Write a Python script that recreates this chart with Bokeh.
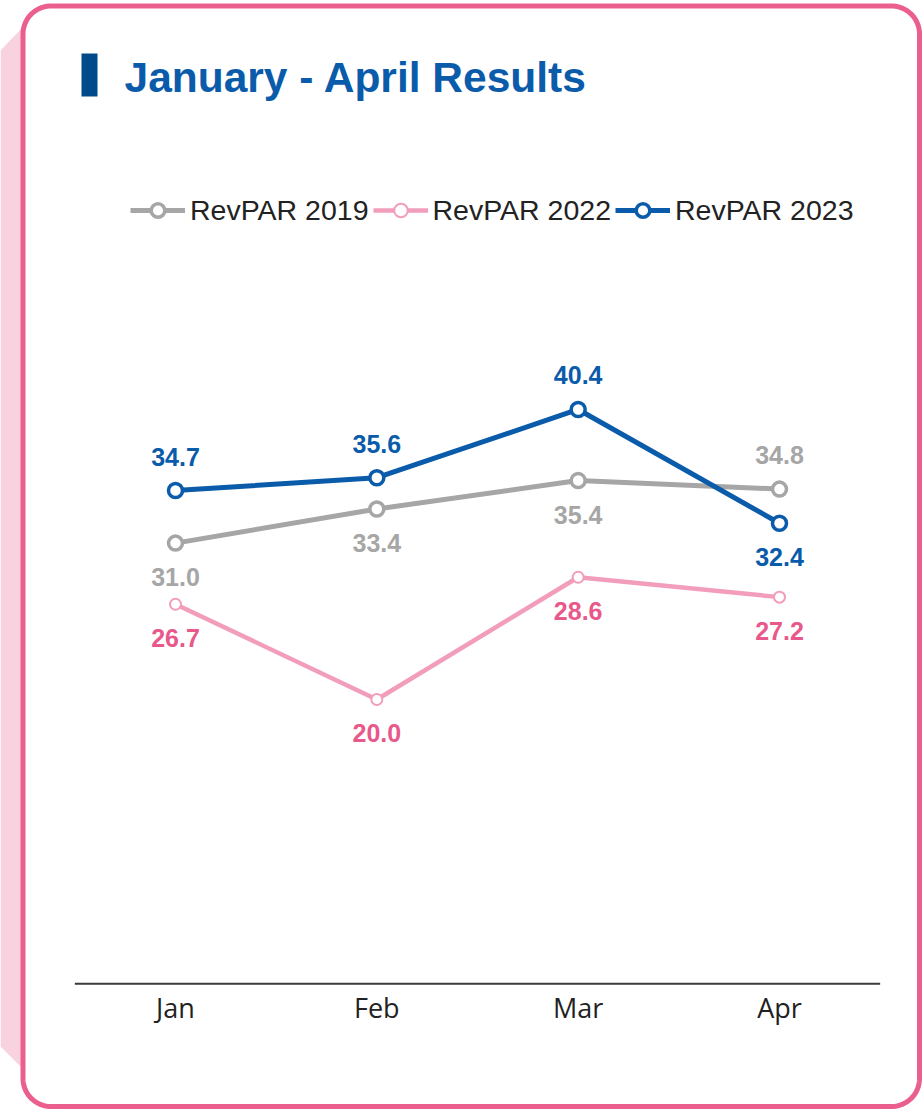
import numpy as np
from bokeh.plotting import figure
from bokeh.models import Range1d, ColumnDataSource, Legend, LegendItem
from bokeh.core.properties import value
from bokeh.embed import file_html
from bokeh.resources import INLINE

# ---------------- data ----------------
months = ["Jan", "Feb", "Mar", "Apr"]
revpar_2019 = [31.0, 33.4, 35.4, 34.8]
revpar_2022 = [26.7, 20.0, 28.6, 27.2]
revpar_2023 = [34.7, 35.6, 40.4, 32.4]
series_names = ["RevPAR 2019", "RevPAR 2022", "RevPAR 2023"]
title_text = "January - April Results"

# label placement: 1 = above point, -1 = below point
side_2019 = [-1, -1, -1, 1]
side_2022 = [-1, -1, -1, -1]
side_2023 = [1, 1, 1, -1]

# ---------------- styles ----------------
BLUE = "#0A5BAA"
GRAY = "#A6A6A6"
PINK_LINE = "#F29DBB"
PINK_TEXT = "#E8588B"
FRAME = "#EA5F8D"
SHADOW = "#F8D3DF"
NAVY = "#004A8A"
TXT = "#222222"

W, H = 922, 1109
idx = list(range(len(months)))

p = figure(width=W, height=H,
           x_range=Range1d(-0.8692, 3.7103),
           y_range=Range1d(-8.842, 69.17),
           output_backend="svg", toolbar_location=None,
           x_axis_location=None, y_axis_location=None,
           min_border=0)
p.extra_x_ranges = {"px": Range1d(0, W)}
p.extra_y_ranges = {"px": Range1d(H, 0)}
p.grid.visible = False
p.outline_line_color = None
p.background_fill_color = "white"
p.border_fill_color = "white"

# ---------------- decorations (page pixel coords) ----------------
p.patch([0, 22, 22, 0], [50, 27, 1068, 1046], fill_color=SHADOW, line_color=None,
        x_range_name="px", y_range_name="px")

def rounded_rect(l, r, t, b, rad, n=24):
    xs, ys = [], []
    for cx, cy, a0 in [(l + rad, t + rad, 180), (r - rad, t + rad, 270),
                       (r - rad, b - rad, 0), (l + rad, b - rad, 90)]:
        a = np.radians(np.linspace(a0, a0 + 90, n))
        xs.extend(cx + rad * np.cos(a))
        ys.extend(cy + rad * np.sin(a))
    return xs, ys

fx, fy = rounded_rect(22.5, 919, 5.5, 1106, 28)
p.patch(fx, fy, fill_color="white", line_color=FRAME, line_width=5,
        x_range_name="px", y_range_name="px")

p.quad(left=[81], right=[97], top=[53], bottom=[96], fill_color=NAVY, line_color=None,
       x_range_name="px", y_range_name="px")
p.text(x=[124], y=[77], text=[title_text], text_font=value("Liberation Sans"),
       text_font_style="bold", text_font_size="42.5px", text_color=BLUE,
       text_baseline="alphabetic", text_align="left",
       x_range_name="px", y_range_name="px")

# ---------------- x axis ----------------
p.segment(x0=[idx[0] - 0.5], x1=[idx[-1] + 0.5], y0=[0], y1=[0],
          line_color="#3A3A3A", line_width=2)
p.text(x=idx, y=[0] * len(idx), text=months, y_offset=24,
       text_font=value("Open Sans"), text_font_size="27px", text_color=TXT,
       text_align="center", text_baseline="middle")

# ---------------- series ----------------
items = []
specs = [
    (series_names[0], revpar_2019, side_2019, GRAY, GRAY, GRAY, 5, 14, 3.5),
    (series_names[1], revpar_2022, side_2022, PINK_LINE, PINK_LINE, PINK_TEXT, 4.5, 11, 2),
    (series_names[2], revpar_2023, side_2023, BLUE, BLUE, BLUE, 5, 14, 3.5),
]
for name, vals, side, lc, mc, tc, lw, ms, mlw in specs:
    src = ColumnDataSource(dict(
        x=idx, y=vals,
        label=[f"{v:.1f}" for v in vals],
        yoff=[-34 if s > 0 else 34 for s in side],
    ))
    rl = p.line("x", "y", source=src, line_color=lc, line_width=lw)
    rs = p.scatter("x", "y", source=src, size=ms, fill_color="white",
                   line_color=mc, line_width=mlw)
    p.text("x", "y", text="label", y_offset="yoff", source=src,
           text_font=value("Liberation Sans"), text_font_style="bold",
           text_font_size="25px", text_color=tc,
           text_align="center", text_baseline="middle")
    items.append(LegendItem(label=name, renderers=[rl, rs]))

legend = Legend(items=items, orientation="horizontal",
                location=(130, 882), glyph_width=55, glyph_height=34,
                label_standoff=5, spacing=4, padding=0, margin=0,
                label_text_font="Liberation Sans", label_text_font_size="28.5px",
                label_text_color=TXT, border_line_alpha=0,
                background_fill_alpha=0)
p.add_layout(legend)

open("out.html", "w").write(file_html(p, INLINE))
